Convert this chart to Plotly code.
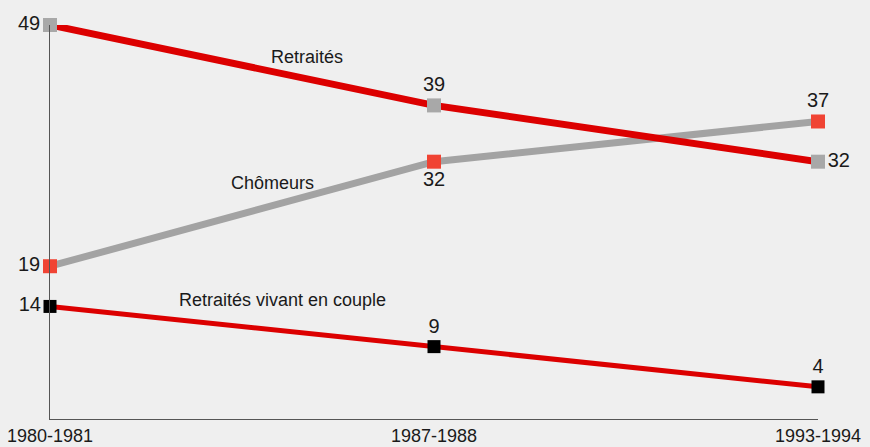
import plotly.graph_objects as go

periods = ["1980-1981", "1987-1988", "1993-1994"]
retraites = [49, 39, 32]
chomeurs = [19, 32, 37]
couple = [14, 9, 4]

xs = [0, 1, 2]
FONT = "Liberation Sans, Arial, sans-serif"
fig = go.Figure()

fig.add_trace(go.Scatter(
    x=xs, y=chomeurs, mode="lines+markers+text",
    line=dict(color="#a3a3a3", width=7),
    marker=dict(symbol="square", size=14, color="#f04333"),
    text=[str(v) for v in chomeurs],
    textposition=["middle left", "bottom center", "top center"],
    textfont=dict(family=FONT, size=20, color="#1a1a1a"),
    cliponaxis=False, showlegend=False))

fig.add_trace(go.Scatter(
    x=xs, y=retraites, mode="lines+markers+text",
    line=dict(color="#dc0000", width=7),
    marker=dict(symbol="square", size=14, color="#a8a8a8"),
    text=[str(v) for v in retraites],
    textposition=["middle left", "top center", "middle right"],
    textfont=dict(family=FONT, size=20, color="#1a1a1a"),
    cliponaxis=False, showlegend=False))

fig.add_trace(go.Scatter(
    x=xs, y=couple, mode="lines+markers+text",
    line=dict(color="#dc0000", width=5),
    marker=dict(symbol="square", size=13, color="#000000"),
    text=[str(v) for v in couple],
    textposition=["middle left", "top center", "top center"],
    textfont=dict(family=FONT, size=20, color="#1a1a1a"),
    cliponaxis=False, showlegend=False))

labels = [("Retraités", 0.67, 45.0), ("Chômeurs", 0.58, 29.4), ("Retraités vivant en couple", 0.605, 14.8)]
for t, x, y in labels:
    fig.add_annotation(x=x, y=y, text=t, showarrow=False,
                       font=dict(family=FONT, size=18, color="#1a1a1a"))

fig.update_layout(
    width=870, height=447,
    margin=dict(l=50, r=52, t=25, b=28, autoexpand=False),
    paper_bgcolor="#efefef", plot_bgcolor="#efefef",
    xaxis=dict(range=[0, 2], tickmode="array", tickvals=xs, ticktext=periods,
               automargin=False,
               showgrid=False, zeroline=False, showline=True, linecolor="#555555",
               linewidth=1, ticks="", tickfont=dict(family=FONT, size=18, color="#1a1a1a")),
    yaxis=dict(range=[0, 49], automargin=False, showgrid=False, zeroline=False, showline=True,
               linecolor="#555555", linewidth=1, showticklabels=False, ticks=""),
)

fig.write_html("out.html", config={"displayModeBar": False},
               post_script="document.body.style.margin='0';document.body.style.overflow='hidden';document.body.style.background='#efefef';")
